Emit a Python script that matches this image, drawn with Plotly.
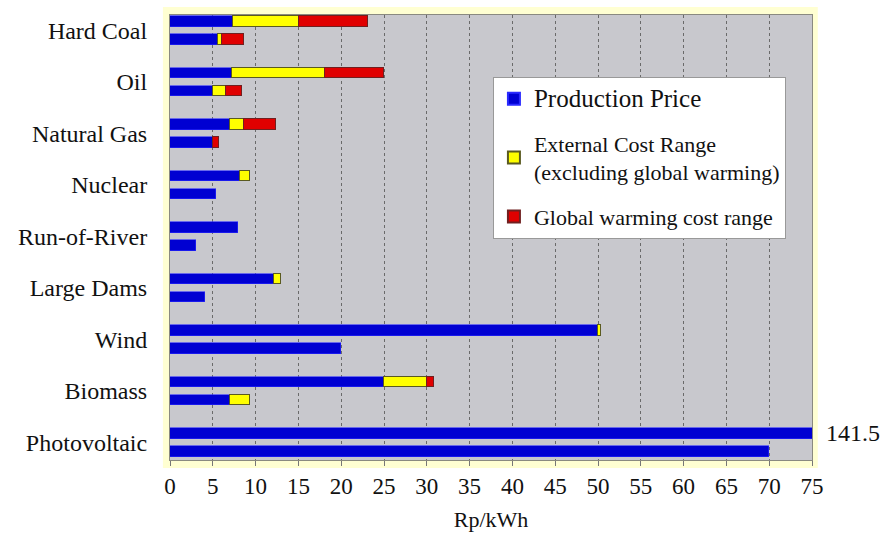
import plotly.graph_objects as go

categories = ["Hard Coal", "Oil", "Natural Gas", "Nuclear", "Run-of-River",
              "Large Dams", "Wind", "Biomass", "Photovoltaic"]

# upper bar (high estimate) per category
prod_high = [7.4, 7.2, 7.0, 8.2, 8.0, 12.1, 50.0, 25.0, 141.5]
ext_high = [7.7, 10.9, 1.6, 1.1, None, 0.9, 0.4, 5.0, None]
gw_high = [8.0, 6.9, 3.8, None, None, None, None, 0.8, None]

# lower bar (low estimate) per category
prod_low = [5.6, 5.0, 5.0, 5.4, 3.0, 4.1, 20.0, 7.0, 70.0]
ext_low = [0.5, 1.5, None, None, None, None, None, 2.3, None]
gw_low = [2.5, 1.9, 0.7, None, None, None, None, None, None]

x_ticks = list(range(0, 80, 5))
pv_label = "141.5"

FONT = "Liberation Serif"
n = len(categories)
off = 0.175
y_high = [i - off for i in range(n)]
y_low = [i + off for i in range(n)]
ys = y_high + y_low

fig = go.Figure()
fig.add_trace(go.Bar(
    y=ys, x=prod_high + prod_low, orientation="h",
    name="<span style='font-size:25px'>Production Price</span>", legendgroup="a",
    marker=dict(color="#0000D2", line=dict(color="#2a2aff", width=0.6)),
    width=0.2))
fig.add_trace(go.Bar(
    y=ys, x=ext_high + ext_low, orientation="h", legendgroup="b",
    name="External Cost Range<br>(excluding global warming)",
    marker=dict(color="#FFFF00", line=dict(color="#5a5a20", width=1)),
    width=0.2))
fig.add_trace(go.Bar(
    y=ys, x=gw_high + gw_low, orientation="h", name="Global warming cost range",
    legendgroup="c",
    marker=dict(color="#E00000", line=dict(color="#702020", width=1)),
    width=0.2))

fig.add_annotation(x=75, y=y_high[-1], text=pv_label, showarrow=False,
                   xanchor="left", xshift=12, font=dict(size=24, color="#111", family=FONT))

fig.add_shape(type="rect", xref="paper", yref="paper", x0=-0.011, x1=1.009,
              y0=-0.018, y1=1.018, fillcolor="#FFFFD2", line=dict(width=0), layer="below")
fig.add_shape(type="rect", xref="paper", yref="paper", x0=0, x1=1,
              y0=0, y1=1, fillcolor="#C8C8CD", line=dict(width=0), layer="below")

fig.update_layout(
    width=887, height=542,
    margin=dict(l=170, r=75, t=15, b=82),
    paper_bgcolor="white", plot_bgcolor="rgba(0,0,0,0)",
    barmode="stack", bargap=0,
    font=dict(family=FONT, color="#111"),
    showlegend=True,
    legend=dict(x=0.503, y=0.861, xanchor="left", yanchor="top",
                bgcolor="white", bordercolor="#999", borderwidth=1,
                font=dict(size=22, family=FONT, color="#111"),
                traceorder="grouped", tracegroupgap=13, itemsizing="constant"),
    xaxis=dict(range=[0, 75], tickvals=x_ticks, showgrid=True, gridcolor="#6a6a6a",
               griddash="dot", gridwidth=1, zeroline=False, showline=True,
               linecolor="#8a8a80", mirror=True, ticks="outside", ticklen=5,
               tickcolor="#777", tickfont=dict(size=23, family=FONT, color="#111"),
               title=dict(text="Rp/kWh", font=dict(size=22, family=FONT, color="#111"),
                          standoff=14)),
    yaxis=dict(range=[8.34, -0.3], tickvals=list(range(n)), ticktext=categories,
               showgrid=False, zeroline=False, showline=True, linecolor="#8a8a80",
               mirror=True, ticks="", ticklabelstandoff=17,
               tickfont=dict(size=24, family=FONT, color="#111")),
)

fig.write_html("out.html")
